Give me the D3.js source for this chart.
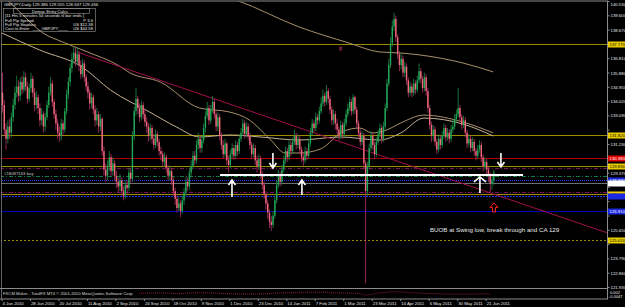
<!DOCTYPE html>
<meta charset="utf-8">
<style>
body { margin: 0; background: #000; }
svg { display: block; }
text { font-family: "Liberation Sans", Arial, sans-serif; }
</style>
<svg width="625" height="307"></svg>
<script src="https://d3js.org/d3.v7.min.js"></script>
<script>
// GBPJPY daily bars, 4 Jun 2010 .. end of Jun 2011 (open = previous close)
var firstOpen = 134.6;
var closes = [
  133.8,132.2,131.6,132.4,132.0, 133.0,133.8,134.6,135.0,134.4,135.3,
  134.8,135.6,135.0,134.2,134.9,135.5,134.6,133.8,134.3, 133.6,132.8,133.2,132.4,133.0,133.8,
  134.6,135.2,134.0,133.2,132.6, 132.0,131.8,132.6,132.2, 133.4,134.5,135.3,136.2,
  136.8,137.2,136.6,137.1, 136.4,135.8,136.5,135.6,135.0, 134.6,133.9,134.3,
  133.5,132.8,133.2,132.4,132.9, 130.8,129.6,129.2, 129.8,130.4,129.5,130.0,129.2,128.8,
  128.5,128.9,128.2,127.9,128.6,128.4, 129.4,129.0, 131.8,133.4,134.2,
  133.6,133.0,133.8,133.2,132.7, 132.4,131.8,132.3, 131.6,131.2,131.9,131.4,130.8,
  130.6,130.1,130.4, 129.7,129.2,129.5, 128.9,128.2,127.7,127.1,127.4,126.9,
  127.6,128.1,128.8,128.5,129.4, 129.8,130.5,130.2,131.2,131.6,131.0,
  131.5,132.3,133.1, 133.6,132.8,133.5,134.0,133.2, 132.4,133.0,131.8,131.2,
  130.6,131.3,130.2,129.9,130.6,131.0, 130.5,131.2,130.8,131.6,132.0,
  132.6,131.9,132.4,131.8,131.2, 130.6,131.0,130.2,129.8,130.3,
  129.3,128.6,128.0,127.4, 126.8,126.2,126.0, 126.6,127.6,128.6, 129.3,128.8,129.6,
  130.2,130.8,130.4,131.2,130.8,131.4, 131.8,131.2,131.6,130.9,130.4,
  130.2,130.8,130.5,131.3, 132.0,132.6,132.3,133.0,132.8,133.4,
  133.9,134.4,134.0,134.7,134.2, 133.5,132.8,133.2,132.6,
  132.2,131.8,132.5,131.9,132.6,133.2, 133.6,134.0,133.4,134.3,133.5,
  132.6,132.0,131.4,131.8, 130.0,128.2, 129.8,131.0,131.8, 131.2,130.6,131.4,
  131.9,132.3,131.6,132.4, 133.6,135.2,136.4, 137.8,138.9,139.4,
  138.2,137.1,136.4, 136.8,135.9,136.3, 135.4,134.6,135.0, 134.6,135.2,134.8,
  135.4,136.0,135.5, 134.9,135.6,134.7, 133.6,132.5,131.8,
  132.2,131.4,130.9,131.6,131.2, 131.8,132.3,131.7, 132.0,131.6,132.2,132.4,
  132.9,133.2,133.6,133.0, 132.5,132.8, 132.0,131.3,131.6,
  131.0,131.4,130.8,130.5, 130.9,131.2,130.4, 129.8,130.1,129.6, 129.2,128.7, 128.9,129.4
];
var highs = [
  135.9,134.1,132.6,132.8,132.9, 133.3,134.2,135.0,135.7,135.4,135.6,
  135.7,136.0,135.9,135.3,135.2,135.9,135.7,134.9,134.7, 134.5,133.9,133.6,133.4,133.3,134.1,
  135.0,135.6,135.4,134.2,133.5, 132.9,132.4,132.9,132.8, 133.6,134.8,135.6,136.5,
  137.2,137.6,137.5,137.5, 137.3,136.7,136.8,136.7,135.8, 135.3,134.8,134.6,
  134.5,133.8,133.6,133.4,133.2, 133.0,131.1,130.0, 130.2,130.8,130.6,130.4,130.2,129.5,
  129.1,129.3,129.1,128.5,128.9,128.9, 129.7,129.7, 132.1,133.7,134.9,
  134.4,133.9,134.1,134.0,133.5, 133.0,132.6,132.6, 132.5,131.9,132.2,132.1,131.6,
  131.1,130.8,130.7, 130.6,129.9,129.8, 129.7,129.1,128.4,127.9,127.8,127.6,
  127.9,128.4,129.1,129.1,129.7, 130.2,130.8,130.8,131.5,132.0,131.8,
  131.8,132.6,133.4, 134.0,133.8,133.8,134.4,134.2, 133.4,133.3,133.2,132.0,
  131.5,131.6,131.4,130.5,130.9,131.3, 131.2,131.5,131.4,131.9,132.3,
  132.9,132.8,132.7,132.6,132.0, 131.4,131.3,131.2,130.5,130.6,
  130.5,129.5,128.8,128.2, 127.6,127.0,126.6, 126.9,127.9,128.9, 129.6,129.5,129.9,
  130.5,131.1,131.0,131.5,131.4,131.7, 132.2,132.0,131.9,131.8,131.1,
  130.7,131.1,131.0,131.6, 132.3,132.9,132.8,133.3,133.2,133.7,
  134.3,134.8,134.6,135.1,134.9, 134.4,133.7,133.5,133.4,
  132.9,132.4,132.8,132.7,132.9,133.5, 133.9,134.3,134.2,134.5,134.4,
  133.7,132.8,132.2,132.1, 132.0,130.2, 130.1,131.3,132.1, 132.0,131.4,131.7,
  132.2,132.6,132.5,132.7, 133.9,135.5,136.8, 138.2,139.3,139.8,
  139.6,138.4,137.3, 137.2,137.0,136.6, 136.5,135.6,135.3, 135.2,135.5,135.4,
  135.7,136.5,136.2, 135.7,135.9,135.8, 134.9,133.8,132.7,
  132.5,132.4,131.6,131.9,131.8, 132.1,132.6,132.5, 132.3,132.2,132.5,132.8,
  133.2,133.5,134.9,133.8, 133.2,133.1, 133.0,132.2,131.9,
  131.8,131.7,131.6,131.0, 131.2,131.5,131.4, 130.6,130.4,130.3, 129.8,129.4, 129.2,129.6
];
var lows = [
  133.3,131.8,130.9,131.3,131.6, 131.7,132.7,133.5,134.3,134.0,134.1,
  134.5,134.6,134.7,133.9,134.0,134.6,134.3,133.4,133.5, 133.2,132.4,132.5,132.0,132.1,132.8,
  133.6,134.4,133.7,132.9,132.2, 131.6,131.4,131.5,131.8, 132.0,133.2,134.2,135.0,
  135.9,136.5,136.3,136.4, 136.0,135.5,135.6,135.3,134.7, 134.2,133.5,133.6,
  133.2,132.4,132.5,132.0,132.1, 130.5,129.2,128.8, 128.9,129.5,129.2,129.2,128.9,128.4,
  128.1,128.2,127.9,127.6,127.7,128.0, 128.2,128.7, 128.8,131.5,133.1,
  133.2,132.7,132.8,132.9,132.4, 132.0,131.4,131.5, 131.3,130.9,131.0,131.1,130.5,
  130.2,129.8,129.8, 129.4,128.9,128.9, 128.6,127.9,127.3,126.8,126.9,126.5,
  126.7,127.3,127.9,128.2,128.3, 129.1,129.6,129.9,130.0,130.9,130.7,
  130.7,131.3,132.0, 132.9,132.5,132.6,133.3,132.9, 132.1,132.1,131.5,130.9,
  130.3,130.4,129.9,129.4,129.7,130.3, 130.2,130.3,130.5,130.6,131.4,
  131.8,131.6,131.7,131.5,130.9, 130.3,130.4,129.9,129.4,129.6,
  129.0,128.3,127.7,127.0, 126.4,125.8,125.6, 125.8,126.4,127.4, 128.4,128.5,128.6,
  129.4,130.0,130.1,130.2,130.5,130.6, 131.2,130.9,131.0,130.6,130.1,
  129.8,130.0,130.2,130.3, 131.1,131.8,132.0,132.1,132.5,132.6,
  133.2,133.7,133.7,133.8,133.9, 133.2,132.5,132.5,132.2,
  131.9,131.5,131.6,131.6,131.7,132.4, 133.0,133.4,133.1,133.2,133.2,
  132.3,131.7,131.1,131.2, 129.6,122.2, 127.9,129.6,130.8, 130.9,130.3,130.4,
  131.2,131.7,131.3,131.4, 132.2,133.4,135.0, 136.2,137.6,138.6,
  137.9,136.8,136.0, 136.1,135.6,135.6, 135.1,134.3,134.4, 134.3,134.4,134.5,
  134.6,135.2,135.2, 134.6,134.7,134.4, 133.3,132.2,131.4,
  131.5,131.1,130.6,130.7,130.9, 131.0,131.6,131.4, 131.5,131.3,131.4,132.0,
  132.2,132.7,133.0,132.7, 132.2,132.3, 131.7,131.0,131.1,
  130.7,130.8,130.5,130.2, 130.3,130.7,130.1, 129.5,129.6,129.3, 128.8,128.1, 128.3,128.6
];

// x axis labels every 16 bars
var dateLabels = ["4 Jun 2010","28 Jun 2010","20 Jul 2010","11 Aug 2010","2 Sep 2010",
  "24 Sep 2010","18 Oct 2010","9 Nov 2010","1 Dec 2010","23 Dec 2010","14 Jan 2011",
  "7 Feb 2011","1 Mar 2011","23 Mar 2011","14 Apr 2011","6 May 2011","30 May 2011","21 Jun 2011"];
var labelStep = 16;

// price scale labels
var priceTicks = [121.930,122.860,123.790,124.720,125.650,126.580,127.510,128.440,129.370,
  130.300,131.230,132.160,133.090,134.020,134.950,135.880,136.810,137.740,138.670,139.600,140.530];

// moving averages: [bar, price]
var maSlow = [[111,141.3],[132,140.6],[167,138.87],[195,137.83],[212,137.25],[224,137.18],
  [235,137.05],[259,136.53],[276,135.95]];
var maMid = [[0,140.95],[10,139.85],[23,138.48],[34,137.9],[48,137.25],[65,136.4],[72,135.88],
  [89,135.29],[111,133.6],[128,133.34],[139,132.82],[151,131.52],[159,130.68],[167,130.68],
  [179,130.94],[192,132.11],[201,132.3],[208,131.98],[216,132.17],[224,132.63],[237,133.14],
  [259,132.69],[276,131.98]];
var maFast = [[0,138.48],[21,137.38],[45,136.27],[61,134.77],[83,133.34],[98,132.37],[111,131.72],
  [128,131.85],[145,131.72],[167,131.52],[190,131.72],[212,131.52],[224,131.98],[237,132.95],
  [259,132.56],[276,131.78]];

// indicator window (dotted)
var oscBars = [77,89,100,111,122,134,145,156,167,179,190,201,204,212,221,229,238,252,263,274];
var oscVals = [-0.00057,-0.00023,-0.00079,0.00009,-0.00057,-0.00135,-0.00135,-0.00023,0.00033,0.00055,
  -0.00023,-0.00079,-0.00247,-0.00023,0.00111,0.00033,-0.00079,-0.00135,-0.00135,-0.00113];

// horizontal levels on the chart
var levelPrices = [137.77,131.82,130.38,129.83,129.70,129.18,128.89,128.73,128.17,128.01,127.85,126.91,125.02];
var levelColors = ["#9c8a00","#9c8a00","#a80000","#9c8a00","#7a1060","#108040","#2030ff","#707070","#7a1060","#9c8a00","#2030ff","#0000b8","#9c8a00"];
var levelDash =   [null,null,null,null,"4,2,1,2","4,2,1,2","1,1",null,"4,2,1,2",null,"2,1",null,"2,2"];
var levelBox =    ["#e8cc00","#e8cc00","#e00000","#e8cc00",null,null,"#1a28e0","#ffffff",null,"#e8cc00","#1a28e0","#1a28e0","#e8cc00"];

// hand drawn objects
var trendLine = [[42,137.25],[340.4,125.47]];
var whiteLine = [[122.5,129.25],[292.7,129.25]];
var arrows = [
  {i:129.2, tip:128.92, tail:127.82, w:3.5, hh:5},
  {i:152.2, tip:129.70, tail:130.68, w:3.5, hh:5},
  {i:168.5, tip:128.92, tail:127.95, w:3.5, hh:5},
  {i:268.5, tip:129.12, tail:128.08, w:6, hh:5},
  {i:280.3, tip:129.77, tail:130.68, w:3.5, hh:5}
];
var redArrow = {i:276.4, tip:127.43, tail:126.84};

var infoLines = ["Domac Entry Calcs","[11 Hrs 5 minutes 54 seconds til bar ends   ]",
  "Full Pip Spread","Full Pip Stoploss","Cost to Enter"];
var infoValues = ["","","P 3.6","US $12.38","US $44.58"];

//appending svg
var svg = d3.select("svg");
svg.append("rect").attr("width", 625).attr("height", 307).attr("fill", "#000");

//setting range and scale
var x = d3.scaleLinear().domain([0, 276]).range([2, 2 + 276 * 1.78]),
    y = d3.scaleLinear().domain([121.93, 140.53]).range([287.5, 1.5]),
    yo = d3.scaleLinear().domain([-0.0047, 0.002]).range([297, 291]);

var small = "4.3px";

svg.append("clipPath").attr("id", "main")
  .append("rect").attr("x", 1).attr("y", 1.5).attr("width", 606.5).attr("height", 287);

var g = svg.append("g").attr("clip-path", "url(#main)");

//levels
levelPrices.forEach(function(p, k) {
  g.append("line")
    .attr("x1", 0).attr("x2", 608)
    .attr("y1", Math.round(y(p)) + 0.5).attr("y2", Math.round(y(p)) + 0.5)
    .attr("stroke", levelColors[k])
    .attr("stroke-width", 1)
    .attr("stroke-dasharray", levelDash[k]);
});

g.append("text")
  .attr("x", 4).attr("y", y(129.18) - 1)
  .attr("fill", "#c8c8c8").style("font-size", small)
  .text("#18087163 buy");

//moving averages
var maLine = d3.line()
  .curve(d3.curveMonotoneX)
  .x(function(d) { return x(d[0]); })
  .y(function(d) { return y(d[1]); });

g.append("path").attr("d", maLine(maSlow)).attr("fill", "none").attr("stroke", "#a8906c").attr("stroke-width", 1);
g.append("path").attr("d", maLine(maMid)).attr("fill", "none").attr("stroke", "#a8906c").attr("stroke-width", 1);
g.append("path").attr("d", maLine(maFast)).attr("fill", "none").attr("stroke", "#c4b092").attr("stroke-width", 1);

//trend line
g.append("path").attr("d", maLine.curve(d3.curveLinear)(trendLine))
  .attr("fill", "none").attr("stroke", "#a0104c").attr("stroke-width", 1);

//candles
var bars = closes.map(function(c, i) {
  return {i: i, o: i ? closes[i - 1] : firstOpen, h: highs[i], l: lows[i], c: c};
});

var candle = g.selectAll(".candle")
  .data(bars)
  .enter().append("g")
    .attr("class", "candle");

candle.append("line")
  .attr("x1", function(d) { return x(d.i) + 0.5; })
  .attr("x2", function(d) { return x(d.i) + 0.5; })
  .attr("y1", function(d) { return y(d.h); })
  .attr("y2", function(d) { return y(d.l); })
  .attr("stroke", function(d) { return d.c >= d.o ? "#1d8c46" : "#b8306e"; })
  .attr("stroke-width", 0.8);

candle.append("rect")
  .attr("x", function(d) { return x(d.i) - 0.2; })
  .attr("width", 1.4)
  .attr("y", function(d) { return y(Math.max(d.o, d.c)); })
  .attr("height", function(d) { return Math.max(1, Math.abs(y(d.o) - y(d.c))); })
  .attr("fill", function(d) { return d.c >= d.o ? "#22a858" : "#f06a78"; });

//white support line and arrows
g.append("path").attr("d", maLine(whiteLine))
  .attr("fill", "none").attr("stroke", "#ffffff").attr("stroke-width", 2);

g.selectAll(".arrow")
  .data(arrows)
  .enter().append("path")
    .attr("class", "arrow")
    .attr("d", function(a) {
      var x0 = x(a.i), y1 = y(a.tip), y2 = y(a.tail), s = a.tip > a.tail ? 1 : -1;
      return "M" + x0 + "," + y2 + "L" + x0 + "," + y1 +
        "M" + (x0 - a.w) + "," + (y1 + s * a.hh) + "L" + x0 + "," + y1 + "L" + (x0 + a.w) + "," + (y1 + s * a.hh);
    })
    .attr("fill", "none")
    .attr("stroke", "#ffffff")
    .attr("stroke-width", 1.6);

(function() {
  var x0 = x(redArrow.i), y1 = y(redArrow.tip), y2 = y(redArrow.tail);
  g.append("path")
    .attr("d", "M" + x0 + "," + y1 + "L" + (x0 + 4) + "," + (y1 + 4.5) + "L" + (x0 + 1.5) + "," + (y1 + 4.5) +
      "L" + (x0 + 1.5) + "," + y2 + "L" + (x0 - 1.5) + "," + y2 + "L" + (x0 - 1.5) + "," + (y1 + 4.5) +
      "L" + (x0 - 4) + "," + (y1 + 4.5) + "Z")
    .attr("fill", "none").attr("stroke", "#ff2020").attr("stroke-width", 1);
})();

g.append("rect").attr("x", x(190) - 1).attr("y", y(137.6)).attr("width", 3).attr("height", 4).attr("fill", "#6a1c3c");

g.append("text")
  .attr("x", x(240.4)).attr("y", y(125.67) + 2)
  .attr("fill", "#e8e8e8").style("font-size", "6.2px")
  .text("BUOB at Swing low, break through and CA 129");

//info panel top left
svg.append("text").attr("x", 4).attr("y", 6).attr("fill", "#e0e0e0").style("font-size", "4.3px")
  .text("GBPJPY,Daily  129.386 129.555 128.637 129.436");

var info = svg.append("g");
info.append("rect").attr("x", 3.5).attr("y", 8.5).attr("width", 92).attr("height", 23)
  .attr("fill", "none").attr("stroke", "#9a9a9a").attr("stroke-width", 0.6);
info.append("rect").attr("x", 13.5).attr("y", 8.5).attr("width", 76).attr("height", 5)
  .attr("fill", "none").attr("stroke", "#9a9a9a").attr("stroke-width", 0.6);
info.selectAll(".l").data(infoLines).enter().append("text")
  .attr("x", function(d, k) { return k === 0 ? 50 : 5; })
  .attr("y", function(d, k) { return 12.8 + k * 4.4; })
  .attr("text-anchor", function(d, k) { return k === 0 ? "middle" : "start"; })
  .attr("fill", "#e0e0e0").style("font-size", "4.2px")
  .text(function(d) { return d; });
info.selectAll(".v").data(infoValues).enter().append("text")
  .attr("x", 93)
  .attr("y", function(d, k) { return 12.8 + k * 4.4; })
  .attr("text-anchor", "end")
  .attr("fill", "#e0e0e0").style("font-size", "4.2px")
  .text(function(d) { return d; });
info.append("text").attr("x", 50).attr("y", 30.4).attr("text-anchor", "middle")
  .attr("fill", "#e0e0e0").style("font-size", "4.2px").text("____GBPJPY____");

//frame
var frame = "#8c8c8c";
svg.append("line").attr("x1", 0).attr("x2", 608).attr("y1", 1).attr("y2", 1).attr("stroke", frame);
svg.append("line").attr("x1", 1.5).attr("x2", 1.5).attr("y1", 1).attr("y2", 299).attr("stroke", frame).attr("stroke-width", 0.7);
svg.append("line").attr("x1", 607.5).attr("x2", 607.5).attr("y1", 1).attr("y2", 299).attr("stroke", frame);
svg.append("line").attr("x1", 0).attr("x2", 608).attr("y1", 288.5).attr("y2", 288.5).attr("stroke", frame);
svg.append("line").attr("x1", 0).attr("x2", 608).attr("y1", 299).attr("y2", 299).attr("stroke", frame);

//price axis (labels hidden where a level box covers them)
var boxY = levelPrices.filter(function(p, k) { return levelBox[k]; }).map(function(p) { return y(p); });
var axisG = svg.append("g");
axisG.selectAll(".tick")
  .data(priceTicks)
  .enter().append("g")
    .attr("transform", function(d) { return "translate(607.5," + y(d) + ")"; })
    .each(function(d) {
      var t = d3.select(this), yy = y(d);
      t.append("line").attr("x1", 0).attr("x2", 2).attr("stroke", frame);
      if (boxY.some(function(b) { return Math.abs(b - yy) < 6; })) return;
      t.append("text").attr("x", 3).attr("dy", yy < 4 ? "1.1em" : "0.35em")
        .attr("fill", "#e8e8e8").style("font-size", small)
        .text(d3.format(".3f")(d));
    });

//level labels on the axis
var lastBox = -99;
levelPrices.forEach(function(p, k) {
  if (!levelBox[k]) return;
  var yy = Math.round(y(p)) + 0.5;
  axisG.append("rect").attr("x", 608).attr("y", yy - 3).attr("width", 17).attr("height", 6).attr("fill", levelBox[k]);
  if (yy - lastBox < 5.5) return;
  lastBox = yy;
  axisG.append("text").attr("x", 609.5).attr("y", yy).attr("dy", "0.35em")
    .attr("fill", levelBox[k] === "#e8cc00" || levelBox[k] === "#ffffff" ? "#000" : "#fff")
    .style("font-size", small)
    .text(d3.format(".3f")(p));
});

//indicator window
var osc = d3.line()
  .curve(d3.curveMonotoneX)
  .x(function(d, k) { return x(oscBars[k]); })
  .y(function(d) { return yo(d); });
svg.append("path").attr("d", osc(oscVals))
  .attr("fill", "none").attr("stroke", "#b02060").attr("stroke-width", 0.8).attr("stroke-dasharray", "1,1");
svg.append("text").attr("x", 3).attr("y", 295).attr("fill", "#d8d8d8").style("font-size", "4.2px")
  .text("FXCM Maker - TotalFX MT4 © 2001-2010 MetaQuotes Software Corp.");
svg.append("text").attr("x", 610).attr("y", 293.5).attr("fill", "#e8e8e8").style("font-size", "4px").text("0.002");
svg.append("text").attr("x", 609).attr("y", 298).attr("fill", "#e8e8e8").style("font-size", "4px").text("-0.0047");

//date axis
svg.selectAll(".date")
  .data(dateLabels)
  .enter().append("g")
    .attr("transform", function(d, k) { return "translate(" + x(k * labelStep) + ",299)"; })
    .each(function(d) {
      var t = d3.select(this);
      t.append("line").attr("y1", 0).attr("y2", 2).attr("stroke", frame);
      t.append("text").attr("x", 0.5).attr("y", 6)
        .attr("fill", "#e8e8e8").style("font-size", small)
        .text(d);
    });
</script>
